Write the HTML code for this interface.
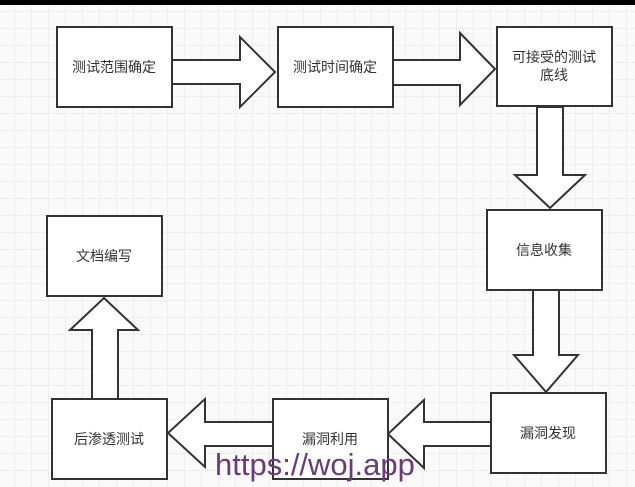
<!DOCTYPE html>
<html><head><meta charset="utf-8"><style>
body{margin:0;width:635px;height:487px;overflow:hidden;background:#f7f7f7;}
</style></head><body>
<svg width="635" height="487" xmlns="http://www.w3.org/2000/svg" style="display:block">
<defs><pattern id="g" width="17" height="17" patternUnits="userSpaceOnUse" x="-2" y="-5"><path d="M17 0V17H0" fill="none" stroke="#e4e4e4" stroke-width="1"/></pattern></defs>
<rect width="635" height="487" fill="#fafafa"/>
<rect width="635" height="487" fill="url(#g)"/>
<rect width="635" height="5" fill="#000"/>
<g fill="#fff" stroke="#333" stroke-width="2">
<polygon points="172,60 240,60 240,37 275,72 240,107 240,84 172,84"/>
<polygon points="393,60 460,60 460,33 495,69 460,105 460,85 393,85"/>
<polygon points="537,107 563,107 563,175 585,175 550,208 515,175 537,175"/>
<polygon points="533,290 559,290 559,355 578,355 546,392 514,355 533,355"/>
<polygon points="491,422 424,422 424,400 388,434 424,468 424,446 491,446"/>
<polygon points="273,422 205,422 205,399 168,433 205,467 205,446 273,446"/>
<polygon points="92,399 92,330 70,330 104,298 138,330 118,330 118,399"/>
<rect x="57" y="27" width="115" height="80"/>
<rect x="278" y="27" width="115" height="80"/>
<rect x="497" y="27" width="115" height="79"/>
<rect x="487" y="210" width="115" height="80"/>
<rect x="491" y="393" width="115" height="80"/>
<rect x="273" y="399" width="115" height="80"/>
<rect x="52" y="399" width="115" height="80"/>
<rect x="47" y="216" width="115" height="80"/>
</g>
<g font-family="Liberation Sans, Noto Sans CJK SC, sans-serif" font-size="14" fill="#333" text-anchor="middle">
<text x="114" y="72">测试范围确定</text>
<text x="335" y="72">测试时间确定</text>
<text x="554" y="62">可接受的测试</text>
<text x="554" y="80">底线</text>
<text x="544" y="255">信息收集</text>
<text x="548" y="438">漏洞发现</text>
<text x="330" y="444">漏洞利用</text>
<text x="109" y="444">后渗透测试</text>
<text x="104" y="261">文档编写</text>
</g>
<text x="215" y="475" font-family="Liberation Sans, sans-serif" font-size="31" fill="#6b3a7c">https://woj.app</text>
</svg>
</body></html>
